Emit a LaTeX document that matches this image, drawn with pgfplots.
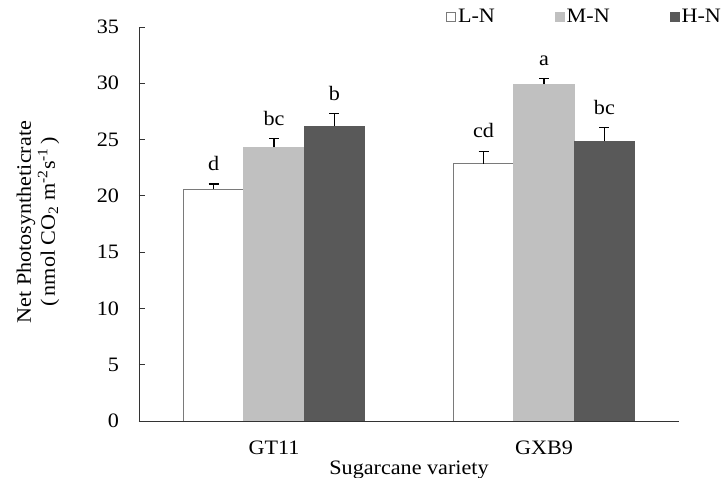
\documentclass[border=0pt]{standalone}
\usepackage{fontspec}
\setmainfont{Liberation Serif}[FakeStretch=1.08]
\usepackage{pgfplots}
\usepackage{pgfplotstable}
\pgfplotsset{compat=1.18}
\definecolor{mgray}{HTML}{C0C0C0}
\definecolor{dgray}{HTML}{595959}
\definecolor{ogray}{HTML}{7A7A7A}
\pgfplotstableread{
x y err lab
0 20.6 0.45 d
1 22.85 1.1 cd
}\LN
\pgfplotstableread{
x y err lab
0 24.3 0.77 bc
1 29.9 0.5 a
}\MN
\pgfplotstableread{
x y err lab
0 26.2 1.1 b
1 24.87 1.2 bc
}\HN
\begin{document}
\fontsize{20.5pt}{24pt}\selectfont
\begin{tikzpicture}[x=1pt,y=1pt]
\useasboundingbox (0,0) rectangle (726,478);
\begin{axis}[
  at={(139pt,57pt)}, anchor=south west,
  scale only axis, width=540pt, height=394pt,
  xmin=-0.5, xmax=1.5, ymin=0, ymax=35,
  axis x line*=bottom, axis y line*=left,
  axis line style={black!80, line width=0.8pt},
  tick align=inside,
  ytick={0,5,...,35},
  major tick length=6pt,
  tick style={black!80, line width=0.8pt},
  /pgf/number format/assume math mode=true,
  yticklabel style={anchor=east, xshift=-13pt},
  xtick={0,1}, xticklabels={GT11,GXB9},
  x tick style={draw=none},
  xticklabel style={anchor=base, yshift=-28pt},
  extra x ticks={-0.5,0.5,1.5},
  extra x tick labels={},
  extra x tick style={tick style={draw=black!80, line width=0.8pt}},
  xlabel={Sugarcane variety},
  xlabel style={at={(axis description cs:0.5,-0.135)}, anchor=base},
  ylabel={Net Photosyntheticrate\\(\,nmol CO\textsubscript{2} m\textsuperscript{-2}s\textsuperscript{-1}\,)},
  ylabel style={at={(axis description cs:-0.187,0.505)}, anchor=center, align=center},
  ybar, bar width=60.5pt,
  error bars/y dir=plus, error bars/y explicit,
  error bars/error bar style={black, line width=1.3pt},
  error bars/error mark options={rotate=90, black, line width=1.3pt, mark size=5pt},
  nodes near coords,
  point meta=explicit symbolic,
  visualization depends on={\thisrow{err} \as \myerr},
  every node near coord/.append style={anchor=south, yshift=\myerr*11.257pt+6pt, black},
  legend columns=3,
  legend style={draw=none, fill=none, at={(axis description cs:0.563,1.025)}, anchor=west,
    /tikz/every even column/.append style={column sep=58pt}},
  legend image code/.code={\draw[#1] (0pt,-4.5pt) rectangle (9pt,4.5pt);},
]
\addplot[bar shift=-60.4pt, fill=white, draw=ogray, line width=0.8pt] table[x=x,y=y,y error=err,meta=lab]{\LN};
\addplot[bar shift=0pt, fill=mgray, draw=mgray, line width=0.8pt] table[x=x,y=y,y error=err,meta=lab]{\MN};
\addplot[bar shift=60.4pt, fill=dgray, draw=dgray, line width=0.8pt] table[x=x,y=y,y error=err,meta=lab]{\HN};
\legend{L-N,M-N,H-N}
\end{axis}
\end{tikzpicture}
\end{document}
